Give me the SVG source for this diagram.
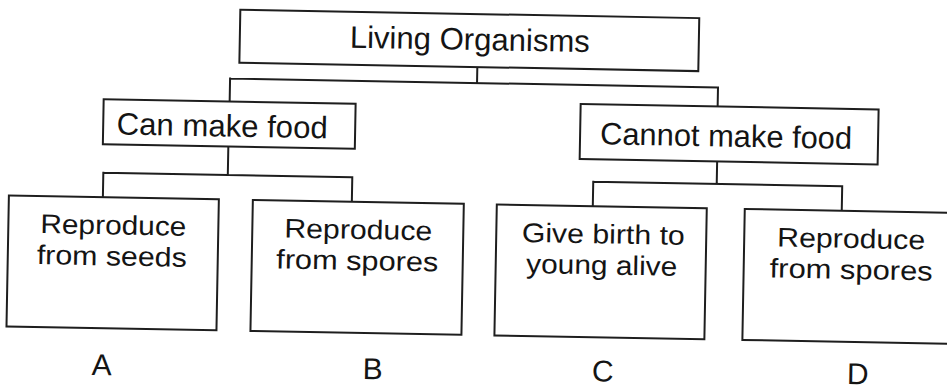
<svg xmlns="http://www.w3.org/2000/svg" width="947" height="389" viewBox="0 0 947 389">
<style>
.box{fill:#fff;stroke:#1e1e1e;stroke-width:2}
.ln{fill:none;stroke:#1e1e1e;stroke-width:2;stroke-linecap:square}
text{font-family:"Liberation Sans",Arial,sans-serif;fill:#141414;text-anchor:middle}
.big{font-size:31px}
.sm{font-size:27px}
.lab{font-size:30px}
</style>
<rect width="947" height="389" fill="#fff"/>
<g transform="rotate(1.05 473 194)">
<g id="connectors">
<path class="ln" d="M475,67 V83 M228,83 H716 M228,83 V106 M716,83 V102"/>
<path class="ln" d="M227.5,151 V179.5 M103,179.5 H352 M103,179.5 V204 M352,179.5 V204"/>
<path class="ln" d="M716.5,157 V179.5 M593,179.5 H842 M593,179.5 V204 M842,179.5 V205"/>
</g>
<g id="living-organisms">
<rect class="box" x="237" y="14" width="459" height="53"/>
<text class="big" x="467" y="50" textLength="240" lengthAdjust="spacingAndGlyphs">Living Organisms</text>
</g>
<g id="can-make-food">
<rect class="box" x="102" y="106" width="252" height="45"/>
<text class="big" x="221" y="141" textLength="211" lengthAdjust="spacingAndGlyphs">Can make food</text>
</g>
<g id="cannot-make-food">
<rect class="box" x="579" y="102" width="298" height="55"/>
<text class="big" x="725" y="142" textLength="252" lengthAdjust="spacingAndGlyphs">Cannot make food</text>
</g>
<g id="node-a">
<rect class="box" x="9" y="204" width="210" height="131"/>
<text class="sm" x="114" y="241" textLength="146" lengthAdjust="spacingAndGlyphs">Reproduce</text>
<text class="sm" x="113" y="272" textLength="150" lengthAdjust="spacingAndGlyphs">from seeds</text>
</g>
<g id="node-b">
<rect class="box" x="253" y="204" width="211" height="131"/>
<text class="sm" x="359" y="241" textLength="148" lengthAdjust="spacingAndGlyphs">Reproduce</text>
<text class="sm" x="358.5" y="272" textLength="162" lengthAdjust="spacingAndGlyphs">from spores</text>
</g>
<g id="node-c">
<rect class="box" x="497" y="204" width="210" height="131"/>
<text class="sm" x="604" y="241" textLength="163" lengthAdjust="spacingAndGlyphs">Give birth to</text>
<text class="sm" x="603" y="272" textLength="151" lengthAdjust="spacingAndGlyphs">young alive</text>
</g>
<g id="node-d">
<rect class="box" x="745" y="204" width="212" height="131"/>
<text class="sm" x="852" y="241" textLength="148" lengthAdjust="spacingAndGlyphs">Reproduce</text>
<text class="sm" x="852.5" y="272" textLength="163" lengthAdjust="spacingAndGlyphs">from spores</text>
</g>
<g id="labels">
<text class="lab" x="105" y="382">A</text>
<text class="lab" x="376" y="381">B</text>
<text class="lab" x="606" y="379">C</text>
<text class="lab" x="861" y="377">D</text>
</g>
</g>
</svg>
